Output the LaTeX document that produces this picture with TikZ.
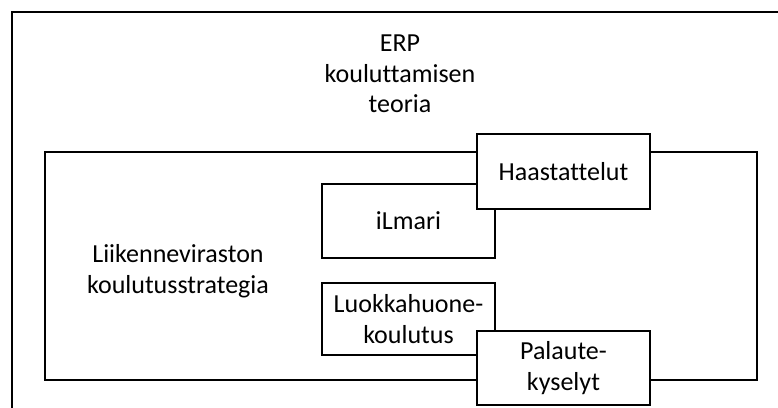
\documentclass[tikz,border=0pt]{standalone}
\usepackage{fontspec}
\setmainfont{Carlito}[Ligatures=NoCommon]
\usetikzlibrary{positioning}
\begin{document}
\begin{tikzpicture}[x=1pt, y=-1pt,
box/.style={draw, line width=2.8pt, fill=white, minimum width=173pt, inner sep=0pt, align=center},
lbl/.style={align=center, inner sep=0pt},
every node/.style={font=\fontsize{26}{30.5}\selectfont}]
\useasboundingbox (0,0) rectangle (778,407);
\clip (0,0) rectangle (778,407);
% outer frame and the strategy frame
\coordinate (O1) at (12,12);
\coordinate (O2) at (800,430);
\draw[line width=2.8pt] (O1) rectangle (O2);
\node[draw, line width=2.8pt, minimum width=712pt, minimum height=228pt, inner sep=0pt] (strat) at (401,266) {};

\node[lbl] (erp) at (400,74) {ERP\\kouluttamisen\\teoria};
\node[lbl] (liik) at (178,271) {Liikenneviraston\\koulutusstrategia};

\node[box, minimum height=74pt] (ilmari) at (408.5,221) {iLmari};
\node[box, minimum height=72pt] (luokka) at (408.5,319) {Luokkahuone-\\koulutus};
\node[box, minimum height=75pt] (haast) at (563.5,171.5) {Haastattelut};
\node[box, minimum height=74pt] (palaute) at (563.5,368) {Palaute-\\kyselyt};
\end{tikzpicture}
\end{document}
